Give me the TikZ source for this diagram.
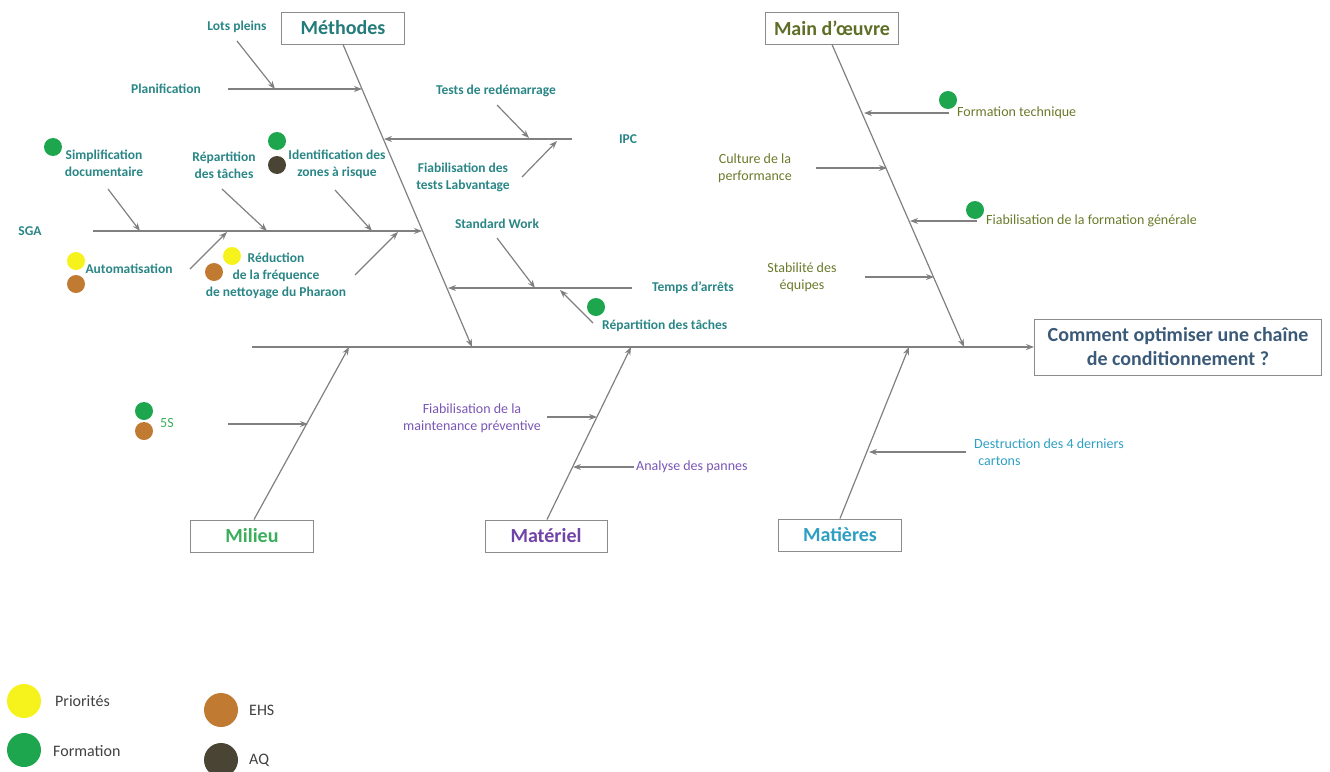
\documentclass[tikz,border=0pt]{standalone}
\usepackage{fontspec}
\setmainfont{Carlito}
\usetikzlibrary{arrows.meta}
\definecolor{lineg}{HTML}{808080}
\definecolor{boxg}{HTML}{8C8C8C}
\definecolor{methC}{HTML}{247B7B}
\definecolor{methL}{HTML}{2A8686}
\definecolor{moC}{HTML}{5E6E26}
\definecolor{moL}{HTML}{6A7A2A}
\definecolor{milC}{HTML}{3AAE5A}
\definecolor{matC}{HTML}{7043A8}
\definecolor{matL}{HTML}{7A56B4}
\definecolor{matsC}{HTML}{2E9FC2}
\definecolor{headC}{HTML}{3B5A78}
\definecolor{dGreen}{HTML}{1DA64E}
\definecolor{dYellow}{HTML}{F6F21C}
\definecolor{dBrown}{HTML}{C07A32}
\definecolor{dDark}{HTML}{4A4434}
\definecolor{legT}{HTML}{404040}
\tikzset{
  bone/.style={draw=lineg, line width=1.2pt, -{Stealth[length=8pt,width=6pt]}},
  twig/.style={draw=lineg, line width=1.2pt, -{Stealth[length=8pt,width=6pt]}},
  catbox/.style={draw=boxg, line width=1pt, fill=white, minimum height=32pt, inner sep=0pt, font=\fontsize{20}{24}\selectfont\bfseries},
  lab/.style={font=\fontsize{14}{17}\selectfont, align=center, inner sep=0pt},
  blab/.style={font=\fontsize{13.5}{17}\selectfont\bfseries, align=center, inner sep=0pt, text=methL},
  dot/.style={circle, inner sep=0pt, minimum size=18pt},
  ldot/.style={circle, inner sep=0pt, minimum size=34pt},
  legtext/.style={font=\fontsize{16}{19}\selectfont, text=legT, inner sep=0pt},
}
\begin{document}
\begin{tikzpicture}[x=1pt,y=-1pt]
\useasboundingbox (0,0) rectangle (1330,771);
% category boxes and head
\node[catbox, minimum width=123pt, text=methC] (meth) at (343,28) {Méthodes};
\node[catbox, minimum width=133pt, text=moC] (mo) at (832,28) {Main d’œuvre};
\node[catbox, minimum width=123pt, text=milC] (mil) at (252,536) {Milieu};
\node[catbox, minimum width=122pt, text=matC] (mat) at (546,536) {Matériel};
\node[catbox, minimum width=123pt, text=matsC] (mats) at (840,535) {Matières};
\node[draw=boxg, line width=1pt, minimum width=287pt, minimum height=56pt, align=center, text=headC, inner sep=0pt, font=\fontsize{20}{24}\selectfont\bfseries] (head) at (1178,347) {Comment optimiser une chaîne\\de conditionnement ?};
% spine
\coordinate (spL) at (252,347);
\draw[bone] (spL) -- (head.west);
% bones
\coordinate (methE) at (472,347);
\coordinate (moE) at (964,347);
\coordinate (milE) at (349,347);
\coordinate (matE) at (631,347);
\coordinate (matsE) at (909,347);
\draw[bone] (meth.south) -- (methE);
\draw[bone] (mo.south) -- (moE);
\draw[bone] ([xshift=2pt]mil.north) -- (milE);
\draw[bone] ([xshift=1pt]mat.north) -- (matE);
\draw[bone] (mats.north) -- (matsE);

% ---------- Méthodes ----------
\node[blab] (plan) at (166,89) {Planification};
\coordinate (plan0) at (228,89); \coordinate (plan1) at (362,89);
\draw[twig] (plan0) -- (plan1);
\node[blab] (lots) at (237,27) {Lots pleins};
\coordinate (lots0) at (237,41); \coordinate (lots1) at (275,89);
\draw[twig] (lots0) -- (lots1);

\node[blab] (ipc) at (628,139) {IPC};
\coordinate (ipc0) at (572,139); \coordinate (ipc1) at (384,139);
\draw[twig] (ipc0) -- (ipc1);
\node[blab] (tests) at (496,91) {Tests de redémarrage};
\coordinate (tests0) at (497,105); \coordinate (tests1) at (529,138);
\draw[twig] (tests0) -- (tests1);
\node[blab] (fiablab) at (463,177) {Fiabilisation des\\tests Labvantage};
\coordinate (fiablab0) at (522,177); \coordinate (fiablab1) at (557,141);
\draw[twig] (fiablab0) -- (fiablab1);

\node[blab] (sga) at (30,231) {SGA};
\coordinate (sga0) at (93,231); \coordinate (sga1) at (422,231);
\draw[twig] (sga0) -- (sga1);
\node[dot, fill=dGreen] (dsimp) at (53,147) {};
\node[blab] (simp) at (104,163) {Simplification\\documentaire};
\coordinate (simp0) at (108,189); \coordinate (simp1) at (140,231);
\draw[twig] (simp0) -- (simp1);
\node[blab] (rep1) at (224,165) {Répartition\\des tâches};
\coordinate (rep10) at (222,189); \coordinate (rep11) at (267,231);
\draw[twig] (rep10) -- (rep11);
\node[dot, fill=dGreen] (did1) at (277,141) {};
\node[dot, fill=dDark] (did2) at (277,165) {};
\node[blab] (ident) at (337,164) {Identification des\\zones à risque};
\coordinate (ident0) at (335,190); \coordinate (ident1) at (372,231);
\draw[twig] (ident0) -- (ident1);
\node[dot, fill=dYellow] (dauto1) at (76,261) {};
\node[dot, fill=dBrown] (dauto2) at (76,284) {};
\node[blab] (auto) at (129,269) {Automatisation};
\coordinate (auto0) at (190,269); \coordinate (auto1) at (227,232);
\draw[twig] (auto0) -- (auto1);
\node[dot, fill=dYellow] (dred1) at (232,256) {};
\node[dot, fill=dBrown] (dred2) at (214,272) {};
\node[blab] (red) at (276,276) {Réduction\\de la fréquence\\de nettoyage du Pharaon};
\coordinate (red0) at (355,275); \coordinate (red1) at (398,232);
\draw[twig] (red0) -- (red1);

\node[blab] (temps) at (693,288) {Temps d’arrêts};
\coordinate (temps0) at (632,288); \coordinate (temps1) at (448,288);
\draw[twig] (temps0) -- (temps1);
\node[blab] (sw) at (497,224) {Standard Work};
\coordinate (sw0) at (497,238); \coordinate (sw1) at (535,288);
\draw[twig] (sw0) -- (sw1);
\node[dot, fill=dGreen] (drep2) at (596,307) {};
\node[blab, anchor=west] (rep2) at (602,326) {Répartition des tâches};
\coordinate (rep20) at (593,323); \coordinate (rep21) at (560,290);
\draw[twig] (rep20) -- (rep21);

% ---------- Main d'oeuvre ----------
\node[dot, fill=dGreen] (dft) at (948,100) {};
\node[lab, text=moL, anchor=west] (ft) at (957,113) {Formation technique};
\coordinate (ft0) at (949,113); \coordinate (ft1) at (864,113);
\draw[twig] (ft0) -- (ft1);
\node[lab, text=moL] (cult) at (755,168) {Culture de la\\performance};
\coordinate (cult0) at (816,168); \coordinate (cult1) at (887,168);
\draw[twig] (cult0) -- (cult1);
\node[dot, fill=dGreen] (dfg) at (975,210) {};
\node[lab, text=moL, anchor=west] (fg) at (986,221) {Fiabilisation de la formation générale};
\coordinate (fg0) at (977,221); \coordinate (fg1) at (910,221);
\draw[twig] (fg0) -- (fg1);
\node[lab, text=moL] (stab) at (802,277) {Stabilité des\\équipes};
\coordinate (stab0) at (865,277); \coordinate (stab1) at (934,277);
\draw[twig] (stab0) -- (stab1);

% ---------- Milieu ----------
\node[dot, fill=dGreen] (d5s1) at (144,411) {};
\node[dot, fill=dBrown] (d5s2) at (144,431) {};
\node[lab, text=milC] (s5) at (167,423) {5S};
\coordinate (s50) at (228,424); \coordinate (s51) at (308,424);
\draw[twig] (s50) -- (s51);

% ---------- Matériel ----------
\node[lab, text=matL] (fmp) at (472,418) {Fiabilisation de la\\maintenance préventive};
\coordinate (fmp0) at (547,417); \coordinate (fmp1) at (597,417);
\draw[twig] (fmp0) -- (fmp1);
\node[lab, text=matL, anchor=west] (ana) at (636,467) {Analyse des pannes};
\coordinate (ana0) at (634,467); \coordinate (ana1) at (573,467);
\draw[twig] (ana0) -- (ana1);

% ---------- Matières ----------
\node[lab, text=matsC, align=left, anchor=west] (dest) at (974,452) {Destruction des 4 derniers\\\hspace{0.3em}cartons};
\coordinate (dest0) at (966,452); \coordinate (dest1) at (869,452);
\draw[twig] (dest0) -- (dest1);

% ---------- Legend ----------
\node[ldot, fill=dYellow] (lg1) at (24,701) {};
\node[legtext, anchor=west] (lt1) at (55,701) {Priorités};
\node[ldot, fill=dGreen] (lg2) at (24,750) {};
\node[legtext, anchor=west] (lt2) at (53,751) {Formation};
\node[ldot, fill=dBrown] (lg3) at (221,710) {};
\node[legtext, anchor=west] (lt3) at (249,710) {EHS};
\node[ldot, fill=dDark] (lg4) at (221,760) {};
\node[legtext, anchor=west] (lt4) at (249,760) {AQ};
\end{tikzpicture}
\end{document}
